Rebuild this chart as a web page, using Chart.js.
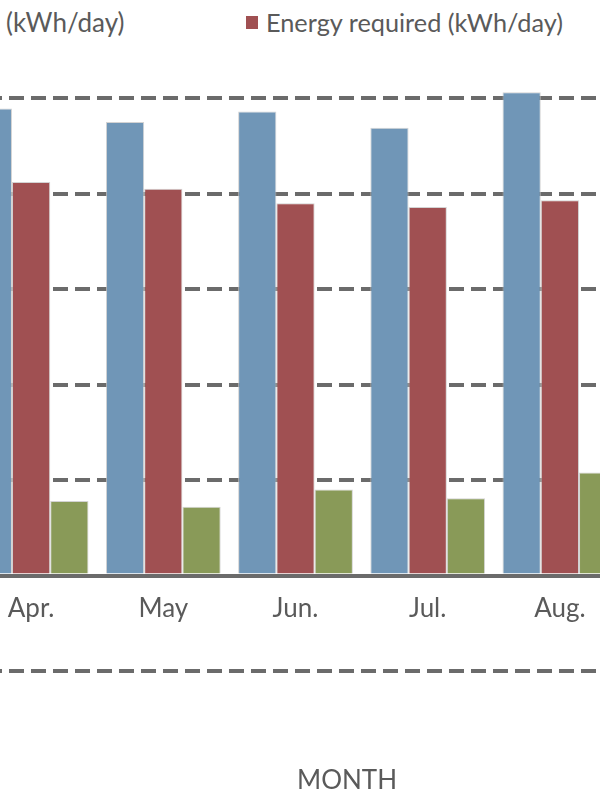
<!DOCTYPE html>
<html>
<head>
<meta charset="utf-8">
<title>Energy by month</title>
<script src="https://cdn.jsdelivr.net/npm/chart.js"></script>
<style>
  html, body { margin: 0; padding: 0; background: #fff; }
  body { width: 600px; height: 800px; overflow: hidden; position: relative; font-family: 'Lato', sans-serif; color: #5a5a5a; }
  #wrap { position: absolute; left: -60px; top: 0; width: 720px; height: 800px; }
  .txt { position: absolute; font-size: 26px; line-height: 26px; white-space: nowrap; }
  .swatch { position: absolute; width: 12px; height: 13px; }
</style>
</head>
<body>

<!-- legend: left item is cut off by the crop, only its unit shows -->
<div class="txt" style="left: 6px; top: 9px;">(kWh/day)</div>
<div class="swatch" style="left: 246px; top: 16px; background: #a05052;"></div>
<div class="txt" style="left: 266px; top: 9px; font-size: 25.3px;">Energy required (kWh/day)</div>

<div id="wrap"><canvas id="myChart"></canvas></div>

<div class="txt" style="left: 297px; top: 766px;">MONTH</div>

<script>
'use strict';

// months visible in the picture
let months = ['Apr.', 'May', 'Jun.', 'Jul.', 'Aug.'];

// (gridlines every 10)
let producedValues = [48.9, 47.5, 48.6, 46.9, 50.6];
let requiredValues = [41.2, 40.5, 39.0, 38.6, 39.3];
let thirdValues = [7.8, 7.2, 9.0, 8.1, 10.8];

let yMin = -10;
let yMax = 52;
let yStep = 10;

Chart.defaults.font.family = 'Lato';
Chart.defaults.font.size = 26;
Chart.defaults.color = '#5a5a5a';

const data = {
  labels: months,
  datasets: [
    {
      label: 'Energy produced (kWh/day)',
      data: producedValues,
      backgroundColor: '#7096b7',
      borderColor: 'rgba(200, 200, 200, 0.8)',
      borderWidth: 1
    },
    {
      label: 'Energy required (kWh/day)',
      data: requiredValues,
      backgroundColor: '#a05052',
      borderColor: 'rgba(200, 200, 200, 0.8)',
      borderWidth: 1
    },
    {
      label: 'Third series (kWh/day)',
      data: thirdValues,
      backgroundColor: '#899a58',
      borderColor: 'rgba(200, 200, 200, 0.8)',
      borderWidth: 1
    }
  ]
};

const config = {
  type: 'bar',
  data: data,
  options: {
    responsive: true,
    maintainAspectRatio: false,
    animation: false,
    datasets: {
      bar: {
        barPercentage: 1,
        categoryPercentage: 0.868
      }
    },
    layout: {
      padding: { top: 79, bottom: 129, left: 25, right: 34 }
    },
    plugins: {
      legend: { display: false },
      title: { display: false },
      tooltip: { enabled: false }
    },
    scales: {
      x: {
        position: { y: 0 },
        grid: { display: false },
        border: { color: '#6b6b6b', width: 4 },
        ticks: { padding: 9, maxRotation: 0 }
      },
      y: {
        min: yMin,
        max: yMax,
        ticks: { display: false, stepSize: yStep, includeBounds: false },
        grid: {
          drawTicks: false,
          lineWidth: 4,
          color: function (ctx) {
            let v = ctx.tick ? ctx.tick.value : 0;
            if (v === 0) {
              return 'rgba(0,0,0,0)';
            }
            return '#6b6b6b';
          }
        },
        border: { display: false, dash: [15, 7] }
      }
    }
  }
};

const myChart = new Chart(document.getElementById('myChart'), config);
</script>
</body>
</html>
